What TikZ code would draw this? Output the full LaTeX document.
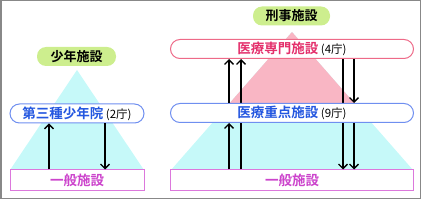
\documentclass[tikz,border=0pt]{standalone}
\usepackage{fontspec}
\setmainfont{Noto Sans CJK JP}[BoldFont={Noto Sans CJK JP Bold}]
\usepackage{xcolor}
\usepackage{tikz}
\usetikzlibrary{arrows.meta}
\definecolor{pillgreen}{HTML}{CDEE8E}
\definecolor{lightcyan}{HTML}{C6F9F9}
\definecolor{lightpink}{HTML}{F9B6C4}
\definecolor{boxblue}{HTML}{6F8FF0}
\definecolor{textblue}{HTML}{2457E0}
\definecolor{boxpink}{HTML}{EE6A88}
\definecolor{textpink}{HTML}{E4306C}
\definecolor{boxviolet}{HTML}{DC78DC}
\definecolor{textviolet}{HTML}{CC44CC}
\definecolor{framegray}{HTML}{888888}

\tikzset{
  pill/.style={fill=pillgreen,rounded corners=9pt,minimum height=19pt,inner sep=0pt,font=\fontsize{13}{15}\selectfont\bfseries},
  rbox/.style={draw=#1,line width=1pt,fill=white,rounded corners=9.5pt,minimum height=19pt,inner sep=0pt},
  gbox/.style={draw=boxviolet,line width=1pt,fill=white,minimum height=21pt,inner sep=0pt,
    text=textviolet,font=\fontsize{13.5}{15}\selectfont\bfseries},
  flow/.style={line width=1.3pt,-{Straight Barb[length=4.5pt,width=9pt]}},
}
\newcommand{\mainlabel}[2]{{\color{#1}\fontsize{13.5}{15}\selectfont\bfseries #2}}
\newcommand{\countlabel}[1]{{\fontsize{11.5}{13}\selectfont\ (#1)}}

\begin{document}
\begin{tikzpicture}[x=1pt,y=-1pt]
  \useasboundingbox (0,0) rectangle (423,200);
  \draw[framegray,line width=1.5pt] (0.75,0.75) rectangle (420.5,198.5);
  % Dreiecke
  \fill[lightcyan] (77,70) -- (10,170) -- (144,170) -- cycle;
  \fill[lightcyan] (292,32) -- (171,170) -- (413,170) -- cycle;
  \fill[lightpink] (292,32) -- (221,113) -- (363,113) -- cycle;
  % Kopf
  \node[pill,minimum width=79pt] (shonen) at (76.5,56.5) {少年施設};
  \node[pill,minimum width=77pt] (keiji) at (291.5,16) {刑事施設};
  % Kaesten links
  \node[rbox=boxblue,minimum width=134pt] (daisan) at (77,113.5) {\mainlabel{textblue}{第三種少年院}\countlabel{2庁}};
  \node[gbox,minimum width=134pt] (ippanL) at (77,180.5) {一般施設};
  % Kaesten rechts
  \node[gbox,minimum width=243pt] (ippanR) at (292,180.5) {一般施設};
  \draw[flow] ([xshift=-51pt]ippanR.north) -- ([xshift=-51pt]ippanR.north |- 0,59);
  \draw[flow] ([xshift=51pt]ippanR.north |- 0,59) -- ([xshift=51pt]ippanR.north);
  \node[rbox=boxpink,minimum width=243pt] (senmon) at (292,49) {\mainlabel{textpink}{医療専門施設}\countlabel{4庁}};
  \node[rbox=boxblue,minimum width=243pt] (juten) at (292,113) {\mainlabel{textblue}{医療重点施設}\countlabel{9庁}};
  % Pfeile
  \draw[flow] ([xshift=-28pt]ippanL.north) -- ([xshift=-28pt]daisan.south);
  \draw[flow] ([xshift=28pt]daisan.south) -- ([xshift=28pt]ippanL.north);
  \draw[flow] ([xshift=-63pt]ippanR.north) -- ([xshift=-63pt]juten.south);
  \draw[flow] ([xshift=-63pt]juten.north) -- ([xshift=-63pt]senmon.south);
  \draw[flow] ([xshift=62pt]senmon.south) -- ([xshift=62pt]juten.north);
  \draw[flow] ([xshift=62pt]juten.south) -- ([xshift=62pt]ippanR.north);
\end{tikzpicture}
\end{document}
